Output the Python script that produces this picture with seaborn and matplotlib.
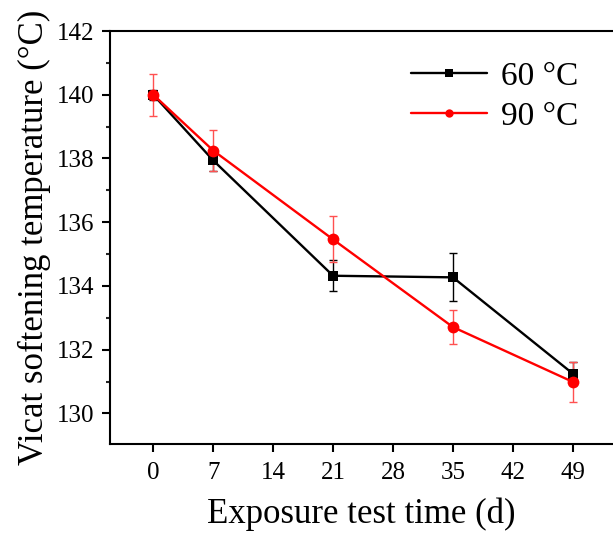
import matplotlib.pyplot as plt
import seaborn as sns
import pandas as pd
from matplotlib.ticker import MultipleLocator

plt.switch_backend('Agg')

days = [0, 7, 21, 35, 49]
temp_60 = [140.0, 137.94, 134.32, 134.27, 131.25]
err_60 = [0.15, 0.33, 0.48, 0.75, 0.35]
temp_90 = [140.0, 138.25, 135.46, 132.71, 130.99]
err_90 = [0.66, 0.63, 0.72, 0.53, 0.63]
x_ticks = [0, 7, 14, 21, 28, 35, 42, 49]

sns.set_style('ticks')
plt.rcParams['font.family'] = ['Liberation Serif', 'DejaVu Serif']
plt.rcParams['text.color'] = 'black'
plt.rcParams['axes.labelcolor'] = 'black'

df = pd.concat([
    pd.DataFrame({'day': days, 'temp': temp_60, 'group': '60 °C'}),
    pd.DataFrame({'day': days, 'temp': temp_90, 'group': '90 °C'}),
])

fig = plt.figure(figsize=(6.13, 5.37), dpi=100)
ax = fig.add_axes([0.1794, 0.1732, 0.8206, 0.769])

# error bars first so lines sit above them
ax.errorbar(days, temp_60, yerr=err_60, fmt='none', ecolor='black', elinewidth=1,
            capsize=3, capthick=1, zorder=2)
ax.errorbar(days, temp_90, yerr=err_90, fmt='none', ecolor='#ff5050', elinewidth=1,
            capsize=3, capthick=1, zorder=2)

sns.lineplot(data=df[df.group == '60 °C'], x='day', y='temp', color='black',
             marker='s', markersize=7, markeredgewidth=0, linewidth=1.7,
             label='60 °C', ax=ax, zorder=3)
sns.lineplot(data=df[df.group == '90 °C'], x='day', y='temp', color='red',
             marker='o', markersize=8.5, markeredgewidth=0, linewidth=1.7,
             label='90 °C', ax=ax, zorder=4)

ax.set_xlim(-5.06, 53.7)
ax.set_ylim(129.04, 142)
ax.set_xticks(x_ticks)
ax.yaxis.set_major_locator(MultipleLocator(2))
ax.yaxis.set_minor_locator(MultipleLocator(1))
ax.tick_params(axis='both', which='major', direction='out', length=5.5, width=1.5,
               labelsize=18, color='black', labelcolor='black', pad=6)
ax.tick_params(axis='x', which='major', pad=7.5)
ax.tick_params(axis='y', which='minor', direction='out', length=3, width=1.5)
for side in ['left', 'bottom', 'top']:
    ax.spines[side].set_linewidth(1.5)
    ax.spines[side].set_color('black')
ax.spines['right'].set_visible(False)

ax.set_xlabel('Exposure test time (d)', fontsize=25, labelpad=10)
ax.set_ylabel('Vicat softening temperature (°C)', fontsize=25, labelpad=4)

leg = ax.legend(loc='upper right', bbox_to_anchor=(0.99, 1.0), frameon=False,
                fontsize=24, handlelength=2.3, labelspacing=0.3, handletextpad=0.4)
for line in leg.get_lines():
    line.set_markersize(6)

fig.savefig('out.png', dpi=100)
plt.close()
